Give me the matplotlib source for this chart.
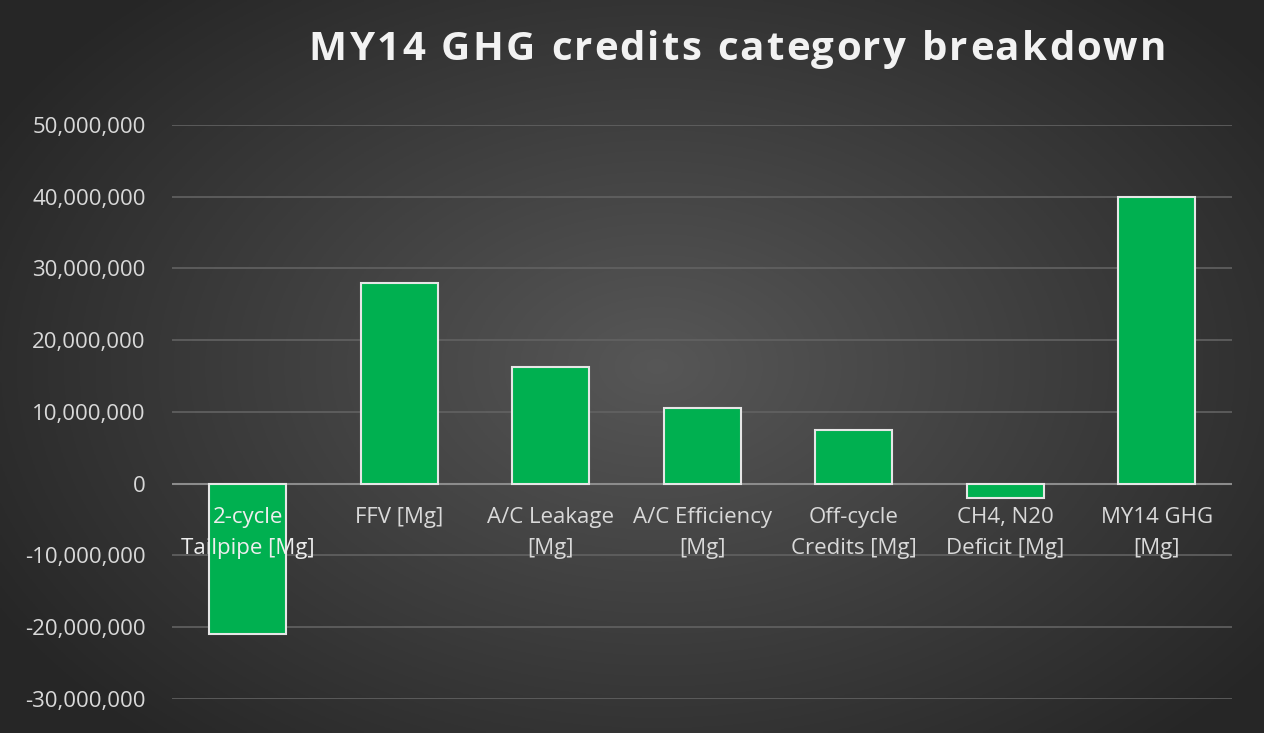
import matplotlib
matplotlib.use("Agg")
import matplotlib.pyplot as plt
import numpy as np
from matplotlib.ticker import FuncFormatter

# Data
categories = [
    "2-cycle\nTailpipe [Mg]",
    "FFV [Mg]",
    "A/C Leakage\n[Mg]",
    "A/C Efficiency\n[Mg]",
    "Off-cycle\nCredits [Mg]",
    "CH4, N20\nDeficit [Mg]",
    "MY14 GHG\n[Mg]",
]
values = [-21_000_000, 28_000_000, 16_200_000, 10_600_000, 7_500_000, -2_000_000, 40_000_000]
y_ticks = [-30_000_000, -20_000_000, -10_000_000, 0, 10_000_000,
           20_000_000, 30_000_000, 40_000_000, 50_000_000]
TITLE = "MY14 GHG credits category breakdown"

BAR_GREEN = "#00B050"
TEXT_COL = "#d9d9d9"
GRID_COL = "#626262"

plt.rcParams["font.family"] = ["Open Sans", "DejaVu Sans"]

fig = plt.figure(figsize=(12.64, 7.33), dpi=100)

# dark radial background
bg = fig.add_axes([0, 0, 1, 1], zorder=-10)
yy, xx = np.mgrid[0:1:300j, 0:1:500j]
r = np.sqrt(((xx - 0.52) / 0.7) ** 2 + ((yy - 0.5) / 0.8) ** 2)
shade = np.clip(0.34 - 0.22 * r, 0.15, 0.34)
bg.imshow(np.dstack([shade] * 3), aspect="auto", extent=[0, 1, 0, 1])
bg.set_axis_off()

ax = fig.add_axes([0.136, 0.0464, 0.839, 0.7831])
ax.set_facecolor("none")

x = np.arange(len(categories))
ax.bar(x, values, width=0.51, color=BAR_GREEN, edgecolor="#e6e6e6",
       linewidth=1.5, zorder=3)

ax.set_xlim(-0.5, len(categories) - 0.5)
ax.set_ylim(-30_000_000, 50_000_000)
ax.set_yticks(y_ticks)
ax.yaxis.set_major_formatter(FuncFormatter(lambda v, _: f"{v:,.0f}"))
ax.grid(axis="y", color=GRID_COL, linewidth=1.2, zorder=0)
ax.axhline(0, color="#8c8c8c", linewidth=1.5, zorder=2)

for s in ["top", "right", "left"]:
    ax.spines[s].set_visible(False)
ax.spines["bottom"].set_position(("data", 0))
ax.spines["bottom"].set_visible(False)

# category labels sit just under the zero line, drawn over the bars
ax.set_xticks(x)
ax.set_xticklabels(categories, fontsize=16, color=TEXT_COL, linespacing=1.6)
ax.tick_params(axis="x", length=0, pad=17)
ax.tick_params(axis="y", length=0, pad=19, labelsize=16, labelcolor=TEXT_COL)
ax.xaxis.set_zorder(5)
ax.get_xticklabels()[0].set_color("#eeeeee")

# title with a bit of letter spacing (Excel-style)
renderer = fig.canvas.get_renderer()
title_size = 29
spacing_px = 2.6


def char_width(ch):
    t1 = fig.text(0, 0, "x" + ch + "x", fontsize=title_size, fontweight="bold")
    t2 = fig.text(0, 0, "xx", fontsize=title_size, fontweight="bold")
    w = t1.get_window_extent(renderer).width - t2.get_window_extent(renderer).width
    t1.remove()
    t2.remove()
    return w


widths = [char_width(c) for c in TITLE]
total = sum(widths) + spacing_px * (len(TITLE) - 1)
W = fig.get_figwidth() * fig.dpi
cursor = 737 - total / 2
for ch, w in zip(TITLE, widths):
    fig.text(cursor / W, 0.933, ch, ha="left", va="center", fontsize=title_size,
             fontweight="bold", color="#f2f2f2")
    cursor += w + spacing_px

plt.savefig("out.png", dpi=100)
